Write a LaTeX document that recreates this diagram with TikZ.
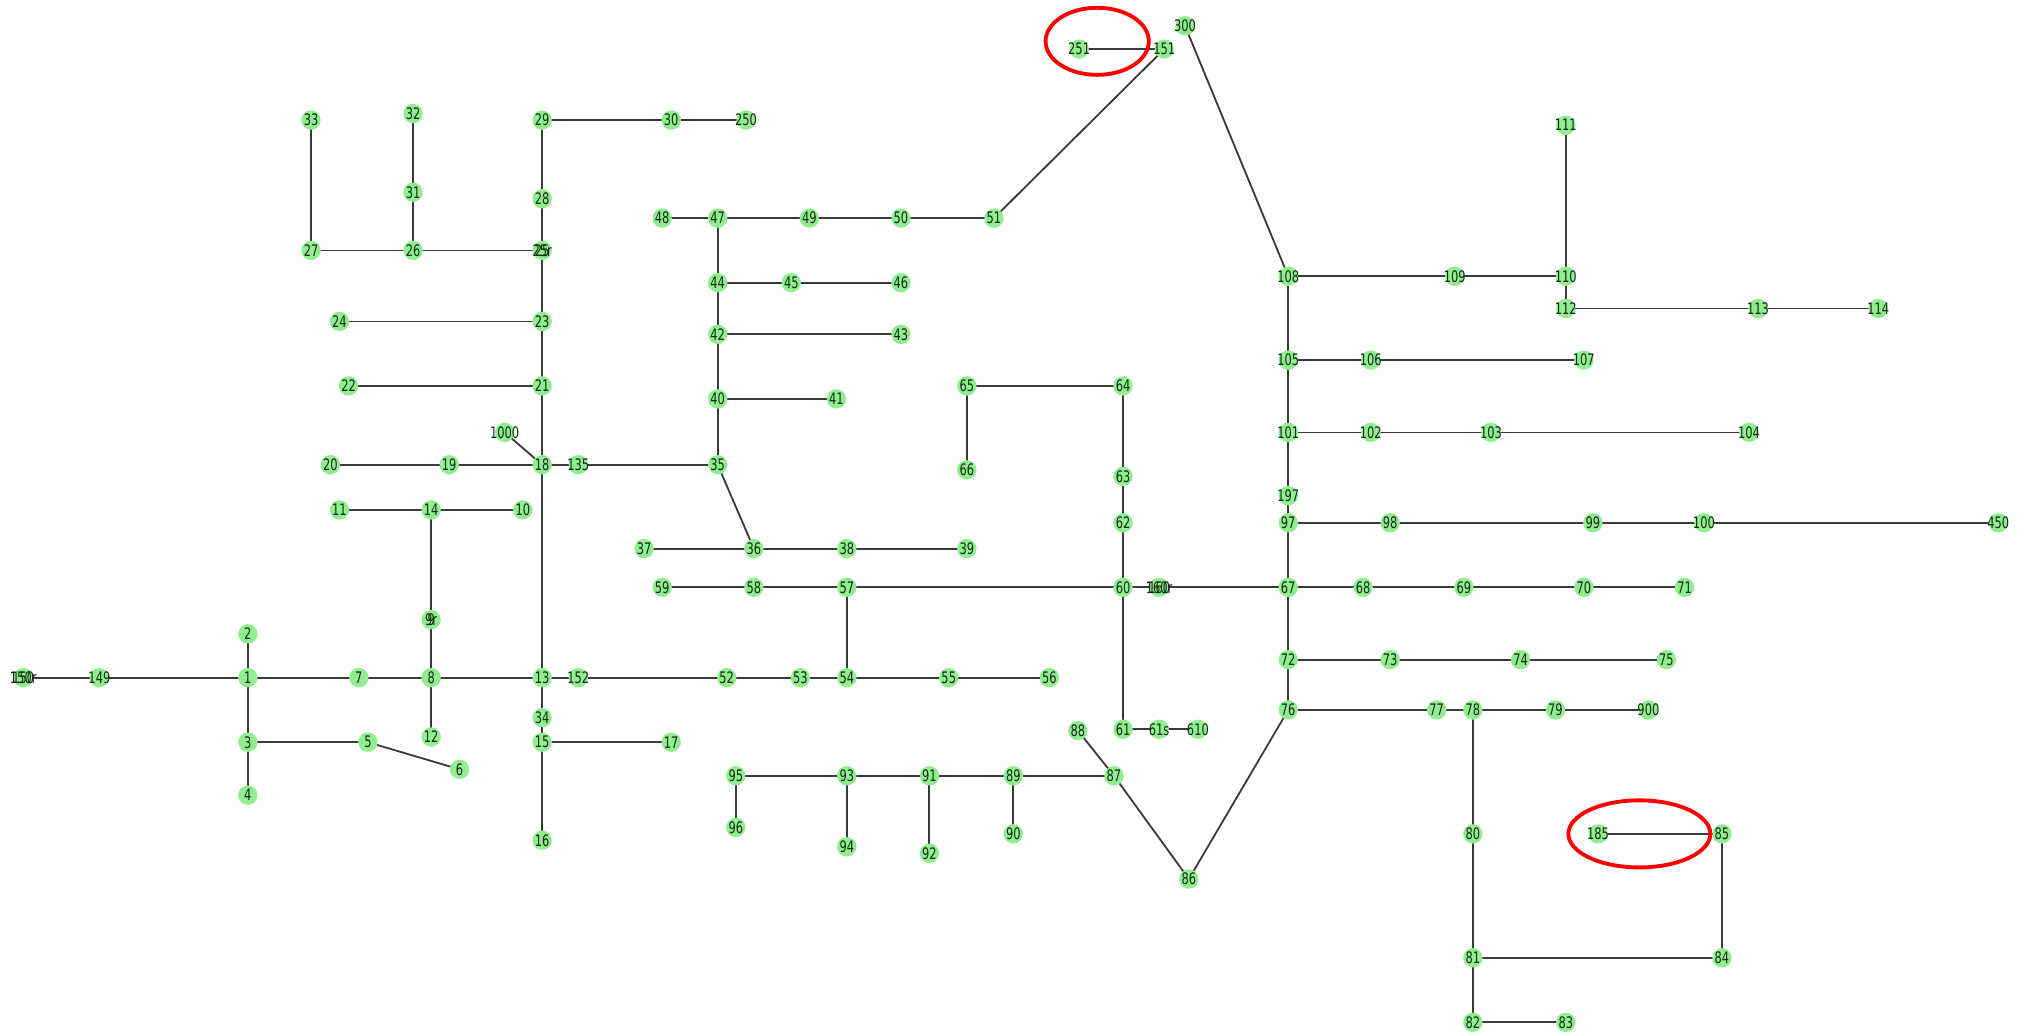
\documentclass[tikz,border=0pt]{standalone}
\usepackage{fontspec}
\setmainfont{DejaVu Sans}[FakeStretch=0.72]
\usepackage{xcolor}
\definecolor{busfill}{HTML}{90EE90}
\definecolor{linecol}{HTML}{3A3A3A}
\definecolor{labelcol}{HTML}{102A10}
\usetikzlibrary{backgrounds}

\begin{document}
\begin{tikzpicture}[
  x=0.02cm, y=-0.02cm,
  bus/.style={circle, fill=busfill, inner sep=0pt, minimum size=0.3cm,
              text=labelcol, font=\fontsize{7}{8}\selectfont},
  twinbus/.style={bus, fill=none},
  feeder/.style={draw=linecol, line width=0.8pt},
  ringmark/.style={draw=red, line width=1.7pt}
]
  \useasboundingbox (0,0) rectangle (1568,801);

  % buses
  \foreach \n/\x/\y in {150/18/525, 149/77/525, 1/192/525, 2/192/491,
      3/192/575, 4/192/616, 5/285/575, 6/356/596, 7/278/525, 8/334/525,
      9/334/480, 12/334/571, 14/334/395, 11/263/395, 10/405/395,
      13/420/525, 152/448/525, 34/420/556, 15/420/575, 16/420/651, 17/520/575,
      18/420/360, 135/448/360, 19/348/360, 20/256/360, 1000/391/335,
      21/420/299, 22/270/299, 23/420/249, 24/263/249, 25/420/194,
      26/320/194, 27/241/194, 31/320/149, 32/320/88, 33/241/93,
      28/420/154, 29/420/93, 30/520/93, 250/578/93,
      35/556/360, 36/584/425, 37/499/425, 38/656/425, 39/749/425,
      40/556/309, 41/648/309, 42/556/259, 43/698/259, 44/556/219, 45/613/219,
      46/698/219, 47/556/169, 48/513/169, 49/627/169, 50/698/169, 51/770/169,
      151/902/38, 251/836/38, 300/918/20,
      52/563/525, 53/620/525, 54/656/525, 55/735/525, 56/813/525,
      57/656/455, 58/584/455, 59/513/455, 60/870/455, 160/898/455,
      67/998/455, 61/870/565, 61s/898/565, 610/928/565,
      62/870/405, 63/870/369, 64/870/299, 65/749/299, 66/749/364,
      88/835/566, 87/863/601, 86/921/681, 89/785/601, 90/785/646,
      91/720/601, 92/720/661, 93/656/601, 94/656/656, 95/570/601, 96/570/641,
      76/998/550, 72/998/511, 73/1077/511, 74/1178/511, 75/1291/511,
      77/1113/550, 78/1141/550, 79/1205/550, 900/1277/550,
      80/1141/646, 81/1141/742, 82/1141/792, 83/1213/792,
      84/1334/742, 85/1334/646, 185/1238/646,
      68/1056/455, 69/1134/455, 70/1227/455, 71/1305/455,
      97/998/405, 197/998/384, 98/1077/405, 99/1234/405, 100/1320/405, 450/1548/405,
      101/998/335, 102/1062/335, 103/1155/335, 104/1355/335,
      105/998/279, 106/1062/279, 107/1227/279,
      108/998/214, 109/1127/214, 110/1213/214, 111/1213/97,
      112/1213/239, 113/1362/239, 114/1455/239}
    \node[bus] (n\n) at (\x,\y) {\makebox[0pt]{\n}};

  % regulator buses sit on top of their twins
  \foreach \n/\x/\y in {150r/18/525, 9r/334/480, 25r/420/194, 160r/898/455}
    \node[twinbus] (n\n) at (\x,\y) {\makebox[0pt]{\n}};

  % lines
  \begin{scope}[on background layer]
    \foreach \a/\b in {150/150r, 150r/149, 149/1, 1/2, 1/3, 3/4, 3/5, 5/6, 1/7, 7/8,
        8/9, 9/9r, 9r/14, 14/11, 14/10, 8/12, 8/13, 13/152, 152/52, 52/53, 53/54,
        54/55, 55/56, 54/57, 57/58, 58/59, 57/60, 60/160, 160/160r, 160r/67,
        60/62, 62/63, 63/64, 64/65, 65/66, 60/61, 61/61s, 61s/610,
        13/34, 34/15, 15/17, 15/16, 13/18, 18/135, 135/35, 18/19, 19/20,
        18/1000, 18/21, 21/22, 21/23, 23/24, 23/25, 25/25r, 25r/26, 26/27,
        27/33, 26/31, 31/32, 25r/28, 28/29, 29/30, 30/250,
        35/36, 36/37, 36/38, 38/39, 35/40, 40/41, 40/42, 42/43, 42/44,
        44/45, 45/46, 44/47, 47/48, 47/49, 49/50, 50/51, 51/151, 151/251,
        300/108, 108/109, 109/110, 110/111, 110/112, 112/113, 113/114,
        108/105, 105/106, 106/107, 105/101, 101/102, 102/103, 103/104,
        101/197, 197/97, 97/98, 98/99, 99/100, 100/450, 97/67,
        67/68, 68/69, 69/70, 70/71, 67/72, 72/73, 73/74, 74/75, 72/76,
        76/77, 77/78, 78/79, 79/900, 78/80, 80/81, 81/82, 82/83, 81/84,
        84/85, 85/185, 76/86, 86/87, 87/88, 87/89, 89/90, 89/91, 91/92,
        91/93, 93/94, 93/95, 95/96}
      \draw[feeder] (n\a.center) -- (n\b.center);
  \end{scope}

  % highlighted branches
  \draw[ringmark] (850,32) ellipse [x radius=0.8cm, y radius=0.52cm];
  \draw[ringmark] (1270,646) ellipse [x radius=1.1cm, y radius=0.52cm];
\end{tikzpicture}
\end{document}
